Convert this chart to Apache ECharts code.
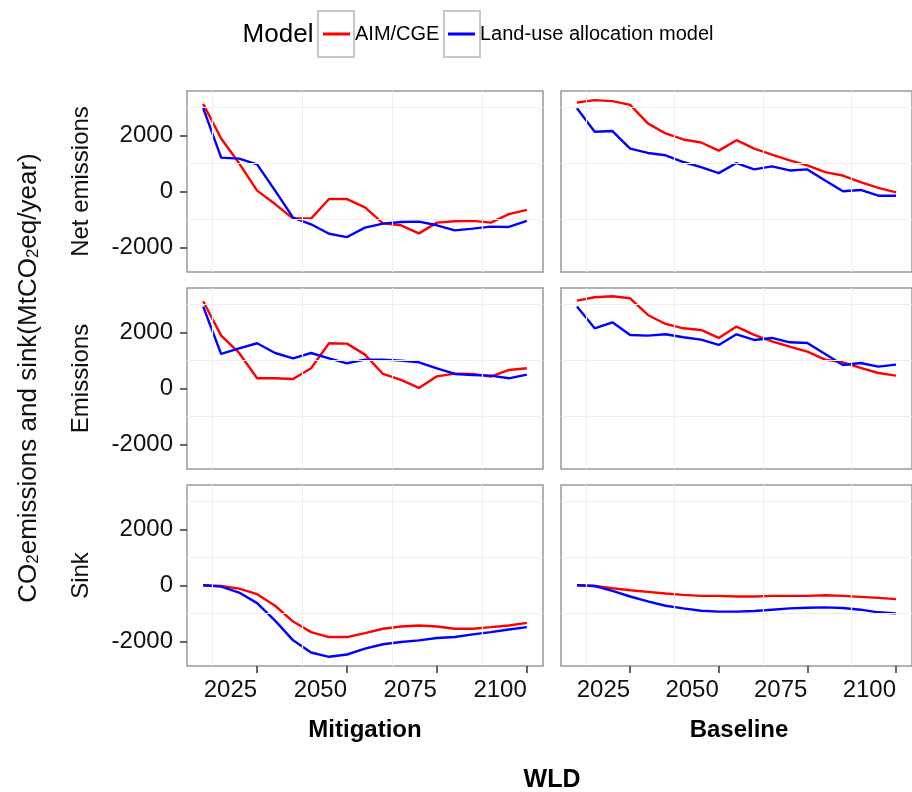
<!DOCTYPE html>
<html><head><meta charset="utf-8">
<script src="https://cdn.jsdelivr.net/npm/echarts@6/dist/echarts.min.js"></script>
<style>html,body{margin:0;padding:0;background:#fff}#c{width:912px;height:792px}</style>
</head><body><div id="c"></div>
<script>
const years = [2010,2015,2020,2025,2030,2035,2040,2045,2050,2055,2060,2065,2070,2075,2080,2085,2090,2095,2100];
const xTicks = [2025,2050,2075,2100];
const yTicks = [-2000,0,2000];
const xGrid = [2012.5,2037.5,2062.5,2087.5];
const yGrid = [-1000,1000,3000];
const rowLabels = ['Net emissions','Emissions','Sink'];
const colLabels = ['Mitigation','Baseline'];
const modelNames = ['AIM/CGE','Land-use allocation model'];

// Net emissions
const netMitAIM  = [3120,1885,1000,24,-456,-973,-973,-276,-276,-576,-1141,-1213,-1501,-1117,-1069,-1057,-1117,-817,-661];
const netMitLUA  = [2966,1201,1165,961,24,-937,-1177,-1513,-1633,-1297,-1153,-1093,-1081,-1213,-1393,-1333,-1261,-1273,-1057];
const netBaseAIM = [3171,3255,3219,3087,2426,2066,1850,1741,1453,1825,1525,1309,1105,925,685,564,324,120,-36];
const netBaseLUA = [2966,2126,2150,1525,1369,1285,1045,865,648,1009,781,889,745,781,384,0,48,-156,-156];
// Emissions
const emiMitAIM  = [3106,1880,1261,357,357,333,714,1607,1595,1202,512,298,12,428,524,512,417,655,714];
const emiMitLUA  = [2916,1226,1428,1607,1261,1071,1261,1071,893,1023,1023,988,928,714,512,476,452,357,488];
const emiBaseAIM = [3130,3249,3284,3213,2618,2297,2142,2083,1797,2202,1904,1678,1488,1309,1023,928,726,547,452];
const emiBaseLUA = [2916,2142,2356,1904,1880,1928,1821,1737,1547,1928,1726,1797,1642,1618,1226,833,904,774,845];
// Sink
const sinkMitAIM  = [0,-24,-118,-318,-729,-1294,-1670,-1847,-1847,-1705,-1552,-1470,-1435,-1470,-1552,-1552,-1494,-1435,-1341];
const sinkMitLUA  = [0,-47,-259,-635,-1259,-1964,-2399,-2552,-2470,-2258,-2105,-2023,-1964,-1882,-1847,-1752,-1670,-1576,-1494];
const sinkBaseAIM = [0,-24,-106,-176,-235,-294,-341,-376,-376,-400,-400,-376,-376,-376,-353,-376,-412,-447,-494];
const sinkBaseLUA = [0,-24,-200,-400,-576,-729,-823,-906,-941,-941,-917,-870,-823,-800,-788,-811,-870,-964,-1000];

const panelData = [
  [[netMitAIM, netMitLUA], [netBaseAIM, netBaseLUA]],
  [[emiMitAIM, emiMitLUA], [emiBaseAIM, emiBaseLUA]],
  [[sinkMitAIM, sinkMitLUA], [sinkBaseAIM, sinkBaseLUA]]
];
const colors = ['#FF0000','#0000FF'];
const FONT = "'Liberation Sans', Arial, sans-serif";

const L = [187, 561], W = 356;
const T = [91, 288, 485], H = 181;
const plain = v => String(v);

const grids = [], xAxes = [], yAxes = [], series = [];
for (let r = 0; r < 3; r++) {
  for (let c = 0; c < 2; c++) {
    const g = r*2 + c;
    grids.push({left: L[c], top: T[r], width: W, height: H, show: true,
      backgroundColor: '#fff', borderColor: '#999', borderWidth: 1.5, containLabel: false});
    const bottom = (r === 2);
    xAxes.push({type: 'value', gridIndex: g, min: 2005.5, max: 2104.5, position: 'bottom',
      axisLine: {show: false, onZero: false}, splitLine: {show: false},
      axisTick: {show: bottom, length: 7, customValues: xTicks, lineStyle: {color: '#333', width: 1.5}},
      axisLabel: {show: bottom, customValues: xTicks, align: 'right', margin: 12, formatter: plain,
        fontSize: 24, fontFamily: FONT, color: '#111'}});
    const left = (c === 0);
    yAxes.push({type: 'value', gridIndex: g, min: -2880, max: 3580, position: 'left',
      axisLine: {show: false, onZero: false}, splitLine: {show: false},
      axisTick: {show: left, length: 7, customValues: yTicks, lineStyle: {color: '#333', width: 1.5}},
      axisLabel: {show: left, customValues: yTicks, margin: 14, formatter: plain,
        fontSize: 24, fontFamily: FONT, color: '#111'}});
    series.push({type: 'line', xAxisIndex: g, yAxisIndex: g, data: [], z: 1, silent: true,
      markLine: {silent: true, symbol: 'none', animation: false, label: {show: false},
        lineStyle: {color: '#eeeeee', width: 1.2, type: 'solid'},
        data: xGrid.map(v => ({xAxis: v})).concat(yGrid.map(v => ({yAxis: v})))}});
    for (let m = 0; m < 2; m++) {
      const vals = panelData[r][c][m];
      series.push({type: 'line', name: modelNames[m], xAxisIndex: g, yAxisIndex: g, z: 3,
        data: years.map((yr, i) => [yr, vals[i]]),
        showSymbol: false, symbol: 'none',
        itemStyle: {color: colors[m]},
        lineStyle: {color: colors[m], width: 2.4}});
    }
  }
}

const graphic = [
  {type: 'rect', shape: {x: 318, y: 11, width: 36, height: 46}, style: {fill: '#fff', stroke: '#c8c8c8', lineWidth: 2}, z: 0},
  {type: 'rect', shape: {x: 444, y: 11, width: 36, height: 46}, style: {fill: '#fff', stroke: '#c8c8c8', lineWidth: 2}, z: 0},
  {type: 'text', x: 278, y: 35, style: {text: 'Model', fontSize: 26, fontFamily: FONT, fill: '#000', align: 'center', verticalAlign: 'middle'}},
  {type: 'text', x: 26, y: 378, rotation: Math.PI/2,
    style: {text: '{n|CO}{s|2}{n|emissions and sink(MtCO}{s|2}{n|eq/year)}', align: 'center', verticalAlign: 'middle', fill: '#111',
      rich: {n: {fontSize: 26, fontFamily: FONT, fill: '#111', lineHeight: 32, verticalAlign: 'bottom'},
             s: {fontSize: 17, fontFamily: FONT, fill: '#111', lineHeight: 18, verticalAlign: 'bottom'}}}}
];
rowLabels.forEach((t, r) => graphic.push({type: 'text', x: 81, y: T[r] + H/2, rotation: Math.PI/2,
  style: {text: t, fontSize: 24, fontFamily: FONT, fill: '#111', align: 'center', verticalAlign: 'middle'}}));
colLabels.forEach((t, c) => graphic.push({type: 'text', x: L[c] + W/2, y: 730,
  style: {text: t, fontSize: 24, fontWeight: 'bold', fontFamily: FONT, fill: '#000', align: 'center', verticalAlign: 'middle'}}));
graphic.push({type: 'text', x: 552, y: 780, style: {text: 'WLD', fontSize: 25, fontWeight: 'bold', fontFamily: FONT, fill: '#000', align: 'center', verticalAlign: 'middle'}});

const legendBase = {top: 22, icon: 'rect', itemWidth: 27, itemHeight: 3, itemGap: 0, padding: 0,
  textStyle: {fontSize: 20, fontFamily: FONT, color: '#000', lineHeight: 24}};
const chart = echarts.init(document.getElementById('c'), null, {renderer: 'canvas'});
chart.setOption({
  animation: false,
  backgroundColor: '#fff',
  legend: [Object.assign({}, legendBase, {data: [modelNames[0]], left: 323}),
           Object.assign({}, legendBase, {data: [modelNames[1]], left: 448})],
  grid: grids, xAxis: xAxes, yAxis: yAxes, series: series, graphic: graphic
});
</script></body></html>
